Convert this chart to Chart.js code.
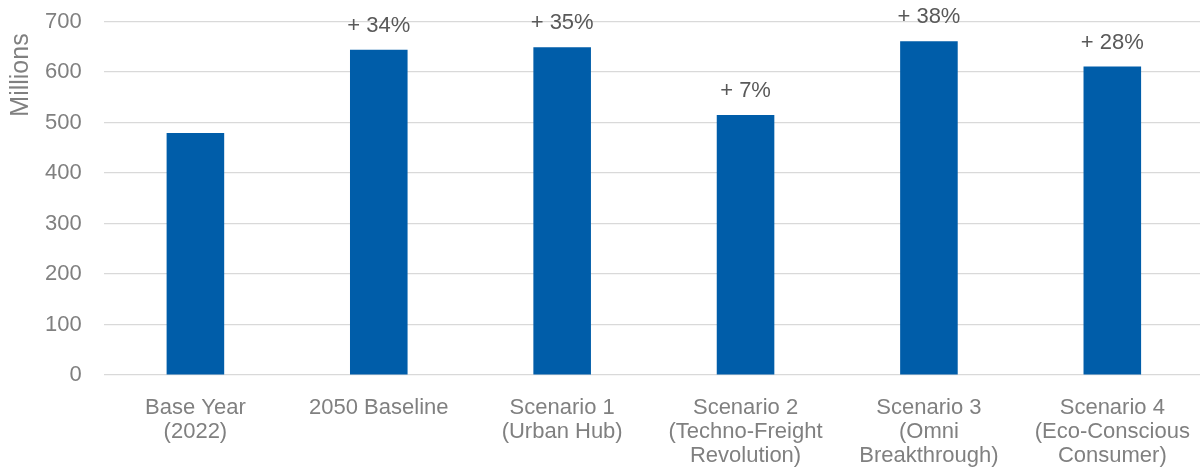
<!DOCTYPE html>
<html>
<head>
<meta charset="utf-8">
<script src="https://cdn.jsdelivr.net/npm/chart.js@4/dist/chart.umd.min.js"></script>
<style>
  html, body { margin: 0; padding: 0; background: #fff; overflow: hidden; }
  #wrap { width: 1200px; height: 471px; overflow: hidden; }
  #box { width: 1204px; height: 471px; position: relative; }
</style>
</head>
<body>
<div id="wrap"><div id="box"><canvas id="myChart"></canvas></div></div>
<script>
const categories = [
  ["Base Year", "(2022)"],
  ["2050 Baseline"],
  ["Scenario 1", "(Urban Hub)"],
  ["Scenario 2", "(Techno-Freight", "Revolution)"],
  ["Scenario 3", "(Omni", "Breakthrough)"],
  ["Scenario 4", "(Eco-Conscious", "Consumer)"],
];
const values = [479, 644, 649, 515, 661, 611];
const growthLabels = ["", "+ 34%", "+ 35%", "+ 7%", "+ 38%", "+ 28%"];
const yTicks = [0, 100, 200, 300, 400, 500, 600, 700];
const yTitle = "Millions";

const fontFamily = "'Liberation Sans', Arial, sans-serif";

// draws the "+ xx%" text above each bar and the rotated axis title
const labelPlugin = {
  id: "growthLabels",
  afterDatasetsDraw(chart) {
    const ctx = chart.ctx;
    const meta = chart.getDatasetMeta(0);
    ctx.save();
    ctx.font = "22px " + fontFamily;
    ctx.fillStyle = "#595959";
    ctx.textAlign = "center";
    ctx.textBaseline = "middle";
    meta.data.forEach((bar, i) => {
      if (!growthLabels[i]) return;
      ctx.fillText(growthLabels[i], bar.x, bar.y - 24);
    });

    ctx.translate(21.5, 75);
    ctx.rotate(-Math.PI / 2);
    ctx.font = "25px " + fontFamily;
    ctx.fillStyle = "#808080";
    ctx.fillText(yTitle, 0, 0);
    ctx.restore();
  },
};

const ctx = document.querySelector("#myChart").getContext("2d");
new Chart(ctx, {
  type: "bar",
  data: {
    labels: categories,
    datasets: [
      {
        data: values,
        backgroundColor: "#005DA9",
        barPercentage: 0.314,
        categoryPercentage: 1,
      },
    ],
  },
  options: {
    responsive: true,
    maintainAspectRatio: false,
    animation: false,
    layout: { padding: { top: 21.5, bottom: 3, left: 45, right: 0 } },
    plugins: {
      legend: { display: false },
      tooltip: { enabled: false },
    },
    scales: {
      x: {
        grid: { display: false, drawTicks: true, tickLength: 21 },
        border: { display: false },
        ticks: {
          color: "#808080",
          font: { family: fontFamily, size: 22, lineHeight: 1.09 },
          padding: 0,
          maxRotation: 0,
          autoSkip: false,
        },
      },
      y: {
        min: 0,
        max: 700,
        afterBuildTicks(axis) {
          axis.ticks = yTicks.map((v) => ({ value: v }));
        },
        grid: {
          color: "#d9d9d9",
          lineWidth: 1.3,
          drawTicks: true,
          tickLength: 22,
          tickColor: "rgba(0,0,0,0)",
        },
        border: { display: false },
        ticks: {
          color: "#808080",
          font: { family: fontFamily, size: 22 },
          padding: 0,
        },
      },
    },
  },
  plugins: [labelPlugin],
});
</script>
</body>
</html>
